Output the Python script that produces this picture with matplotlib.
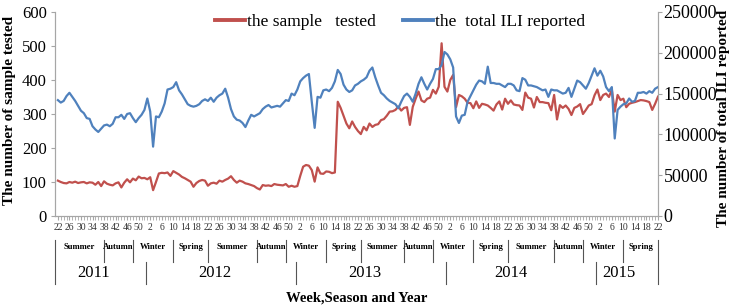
import numpy as np
import matplotlib.pyplot as plt
import matplotlib.transforms as mtransforms
from matplotlib.lines import Line2D

plt.rcParams['font.family'] = ['Liberation Serif', 'DejaVu Serif']

# week numbers, 2011 wk22 -> 2015 wk22
weeks = list(range(22, 53)) + list(range(1, 53)) * 3 + list(range(1, 23))

# number of samples tested (left axis)
sample_tested = [
    # 2011
    104, 100, 97, 96, 100, 98, 101, 97, 99, 100, 96, 99, 98, 92, 100, 88,
    102, 95, 92, 90, 96, 99, 84, 98, 108, 99, 110, 105, 116, 111, 112,
    # 2012
    108, 114, 76, 100, 125, 127, 126, 128, 118, 132, 127, 122, 115, 111, 106, 101,
    86, 97, 103, 106, 104, 89, 96, 98, 95, 104, 101, 106, 110, 117, 106, 98,
    104, 101, 96, 94, 91, 88, 82, 78, 91, 89, 90, 88, 94, 92, 91, 90,
    94, 86, 89, 86,
    # 2013
    88, 118, 145, 150, 148, 135, 101, 143, 125, 124, 131, 130, 126, 128, 336, 318,
    295, 272, 258, 278, 262, 250, 241, 262, 252, 272, 262, 268, 270, 282, 285, 295,
    307, 308, 312, 322, 310, 318, 320, 268, 321, 345, 366, 340, 335, 345, 348, 371,
    360, 380, 508, 380,
    # 2014
    366, 400, 415, 320, 356, 352, 345, 333, 332, 317, 337, 318, 330, 328, 325, 318,
    310, 328, 337, 313, 345, 330, 340, 328, 326, 325, 312, 363, 348, 345, 319, 350,
    335, 335, 333, 332, 311, 356, 284, 326, 318, 325, 315, 297, 318, 322, 329, 300,
    312, 325, 329, 355,
    # 2015
    372, 341, 356, 360, 350, 372, 307, 356, 341, 345, 320, 330, 333, 335, 338, 341,
    340, 338, 335, 312, 330, 351,
]

# total ILI reported, thousands (right axis)
ili_reported = [
    # 2011
    142, 139, 141, 147, 151, 146, 141, 135, 129, 126, 120, 119, 110, 106, 103, 107,
    111, 112, 110, 113, 121, 121, 124, 119, 125, 126, 120, 115, 120, 124, 130,
    # 2012
    144, 128, 85, 122, 121, 128, 138, 155, 156, 158, 164, 154, 149, 143, 137, 135,
    134, 135, 137, 141, 143, 141, 145, 140, 145, 148, 150, 156, 145, 131, 122, 118,
    117, 114, 109, 117, 124, 122, 124, 126, 131, 134, 136, 133, 134, 135, 134, 138,
    142, 141, 150, 148,
    # 2013
    155, 165, 169, 172, 174, 140, 108, 146, 145, 154, 155, 153, 157, 165, 179, 174,
    161, 155, 152, 154, 160, 162, 165, 167, 170, 178, 182, 170, 160, 151, 148, 144,
    141, 139, 137, 132, 140, 147, 150, 146, 140, 150, 162, 170, 162, 155, 162, 168,
    180, 180, 185, 201,
    # 2014
    198, 192, 182, 122, 114, 123, 124, 140, 147, 154, 161, 166, 165, 162, 183, 163,
    163, 162, 162, 160, 158, 162, 162, 160, 154, 153, 169, 167, 160, 160, 159, 158,
    156, 154, 155, 146, 155, 154, 154, 152, 150, 151, 157, 146, 156, 166, 164, 160,
    156, 163, 172, 181,
    # 2015
    172, 178, 171, 158, 153, 158, 95, 130, 134, 137, 138, 144, 140, 141, 151, 151,
    152, 150, 153, 151, 156, 158,
]

season_names = ['Summer', 'Autumn', 'Winter', 'Spring'] * 4
season_edges = [-1, 16, 26, 40, 52, 69, 79, 93, 105, 120, 130, 144, 156, 172, 182, 196, 208]
year_names = ['2011', '2012', '2013', '2014', '2015']
year_edges = [-1, 30.5, 82.5, 134.5, 186.5, 208]
year_label_pos = [12.5, 54.4, 106.3, 157, 194.5]

red = '#C0504D'
blue = '#4F81BD'
axis_grey = '#A6A6A6'

W, H = 731, 308
fig = plt.figure(figsize=(W / 100, H / 100), dpi=100)
ax = fig.add_axes([55 / W, 1 - 216 / H, (658 - 55) / W, (216 - 12) / H])
ax2 = ax.twinx()

x = np.arange(len(weeks))
ax.plot(x, sample_tested, color=red, lw=1.6, solid_joinstyle='round')
ax2.plot(x, np.array(ili_reported) * 1000, color=blue, lw=1.6, solid_joinstyle='round')

ax.set_xlim(-1, 208)
ax.set_ylim(0, 600)
ax2.set_ylim(0, 250000)
ax.set_yticks(range(0, 601, 100))
ax2.set_yticks(range(0, 250001, 50000))

ax.set_xticks(x[::4])
ax.set_xticklabels([str(w) for w in weeks[::4]], fontsize=7, color='#333333')
ax.set_xticks(x, minor=True)
ax.tick_params(axis='x', which='both', length=3, color=axis_grey, pad=2)
ax.tick_params(axis='y', length=3, color=axis_grey, labelsize=12, pad=3)
ax2.tick_params(axis='y', length=3, color=axis_grey, labelsize=13, pad=1)

for a in (ax, ax2):
    a.spines['top'].set_visible(False)
    for s in ('left', 'right', 'bottom'):
        a.spines[s].set_color(axis_grey)

# category rows below the axis
trans = mtransforms.blended_transform_factory(ax.transData, fig.transFigure)


def fy(p):
    return 1 - p / H


for i, name in enumerate(season_names):
    xc = (season_edges[i] + season_edges[i + 1]) / 2
    ax.text(xc, fy(247), name, transform=trans, ha='center', va='center',
            fontsize=6.2, fontweight='bold')
for e in season_edges[1:-1]:
    ax.add_line(Line2D([e, e], [fy(240), fy(262)], transform=trans,
                       color='#555555', lw=0.8, clip_on=False))
for e in (season_edges[0], season_edges[-1]):
    ax.add_line(Line2D([e, e], [fy(240), fy(284)], transform=trans,
                       color='#555555', lw=0.8, clip_on=False))
for e in year_edges[1:-1]:
    ax.add_line(Line2D([e, e], [fy(262), fy(284)], transform=trans,
                       color='#555555', lw=0.8, clip_on=False))
for xc, name in zip(year_label_pos, year_names):
    ax.text(xc, fy(273), name, transform=trans, ha='center', va='center', fontsize=12)

fig.text((55 + 658) / 2 / W, fy(298), 'Week,Season and Year', ha='center', va='center',
         fontsize=10.5, fontweight='bold')
fig.text(10 / W, fy(110), 'The number of sample tested', rotation=90, ha='center',
         va='center', fontsize=11, fontweight='bold')
fig.text(723 / W, fy(118), 'The number of total ILI reported', rotation=90, ha='center',
         va='center', fontsize=11, fontweight='bold')

handles = [Line2D([], [], color=red, lw=2.8), Line2D([], [], color=blue, lw=2.8)]
fig.legend(handles, ['the sample   tested', 'the  total ILI reported'],
           loc='center', bbox_to_anchor=(400 / W, fy(22)), ncol=2, frameon=False,
           fontsize=12.5, handlelength=1.7, handletextpad=0.1, columnspacing=1.6)

fig.savefig('out.png', dpi=100)
